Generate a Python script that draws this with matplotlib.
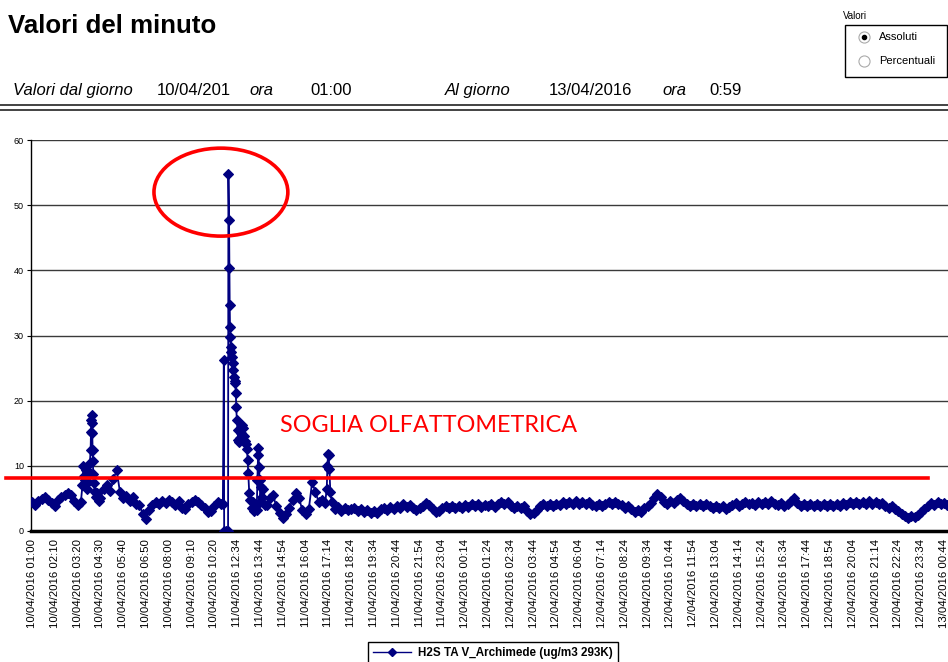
import numpy as np
import matplotlib
matplotlib.use('Agg')
import matplotlib.pyplot as plt
from matplotlib.patches import Ellipse, Rectangle
from matplotlib.lines import Line2D

plt.rcParams['font.family'] = ['Liberation Sans', 'DejaVu Sans']

W, H = 948, 662

# etichette asse x (una ogni 70 minuti)
etichette = ['10/04/2016 01:00', '10/04/2016 02:10', '10/04/2016 03:20', '10/04/2016 04:30',
             '10/04/2016 05:40', '10/04/2016 06:50', '10/04/2016 08:00', '10/04/2016 09:10',
             '10/04/2016 10:20',
             '11/04/2016 12:34', '11/04/2016 13:44', '11/04/2016 14:54', '11/04/2016 16:04',
             '11/04/2016 17:14', '11/04/2016 18:24', '11/04/2016 19:34', '11/04/2016 20:44',
             '11/04/2016 21:54', '11/04/2016 23:04',
             '12/04/2016 00:14', '12/04/2016 01:24', '12/04/2016 02:34', '12/04/2016 03:44',
             '12/04/2016 04:54', '12/04/2016 06:04', '12/04/2016 07:14', '12/04/2016 08:24',
             '12/04/2016 09:34', '12/04/2016 10:44', '12/04/2016 11:54', '12/04/2016 13:04',
             '12/04/2016 14:14', '12/04/2016 15:24', '12/04/2016 16:34', '12/04/2016 17:44',
             '12/04/2016 18:54', '12/04/2016 20:04', '12/04/2016 21:14', '12/04/2016 22:24',
             '12/04/2016 23:34',
             '13/04/2016 00:44']
passo_etichette = 70

tratto1_inizio = 0
tratto1 = [4.4, 4.0, 4.6, 4.9, 5.2, 4.7, 4.3, 3.8, 4.8, 5.2, 5.5, 5.8, 5.6, 4.6, 4.0]

picco1_min = [150, 155, 158, 160, 163, 166, 169, 172, 175, 178, 180, 181, 182, 183, 184,
              185, 186, 187, 188, 190, 193, 196, 200, 205, 210]
picco1_val = [4.4, 7.0, 9.9, 8.5, 7.8, 9.3, 6.5, 7.5, 9.0, 10.5, 12.5, 15.2, 17.0, 17.8, 16.5,
              15.0, 12.5, 10.7, 8.7, 7.3, 6.0, 5.2, 5.8, 4.6, 5.0]

tratto2_inizio = 220
tratto2 = [6.5, 7.0, 6.2, 8.0, 9.3, 6.0, 5.0, 5.3, 4.6, 5.2, 4.2, 4.0, 2.6, 1.8, 3.2, 4.0,
           4.5, 4.2, 4.6, 4.3, 4.7, 4.4, 4.0, 4.6, 3.6, 3.4, 4.2, 4.5, 4.8, 4.4, 4.0, 3.5,
           2.9, 3.0, 3.8, 4.4, 4.1]

picco2_min = [586, 589, 590, 596, 602, 603, 605, 606, 607, 608, 609, 610, 612, 613, 616,
              618, 620, 622, 624, 626, 627, 629, 631, 633, 636, 639, 642, 645, 648, 651,
              654, 657, 660, 662, 664, 667, 670, 674, 678, 682, 686, 690, 692, 694, 695,
              697, 699, 701, 704, 707, 710, 714]
picco2_val = [4.2, 26.2, 0.0, 0.0, 0.0, 54.8, 47.7, 40.3, 34.7, 31.3, 29.8, 28.2, 27.5, 26.7, 25.8,
              24.7, 23.6, 23.0, 22.7, 21.2, 19.0, 17.0, 15.5, 14.0, 13.6, 14.2, 15.0, 16.2, 15.8, 14.6,
              13.8, 13.4, 12.6, 10.9, 8.9, 5.8, 4.7, 3.6, 4.4, 3.0, 3.8, 3.2, 7.8, 11.6, 12.8,
              9.8, 7.8, 4.5, 6.8, 5.2, 6.5, 4.0]

tratto3_inizio = 720
tratto3 = [4.0, 5.0, 5.5, 3.8, 2.8, 2.0, 2.6, 3.5, 4.8, 5.8, 5.0, 3.2, 2.6, 3.4, 7.5, 6.0,
           4.5, 4.8, 4.3]

picco3_min = [905, 907, 909, 911, 913, 916]
picco3_val = [6.5, 10.0, 11.8, 11.6, 9.5, 6.0]

tratto4_inizio = 920
tratto4 = [4.5, 3.3, 3.7, 3.0, 3.5, 3.2,
           3.3, 3.6, 3.1, 3.4, 2.9, 3.2, 2.8, 3.1, 2.7, 3.3,
           3.6, 3.2, 3.7, 3.4, 3.9, 3.6, 4.1, 3.7, 4.0, 3.5,
           3.2, 3.6, 3.9, 4.3, 4.0, 3.4, 2.9, 3.1, 3.5, 3.8,
           3.5, 3.9, 3.6, 3.8, 3.5, 4.0, 3.7, 4.1, 3.8, 4.2,
           3.7, 4.0, 3.8, 4.1, 3.7, 4.2, 4.5, 4.1, 4.4, 3.9,
           3.6, 3.9, 3.5, 3.8, 3.0, 2.6, 2.8, 3.2, 3.8, 4.2,
           3.9, 4.1, 3.8, 4.2, 4.0, 4.4, 4.1, 4.5, 4.2, 4.6,
           4.2, 4.5, 4.1, 4.4, 4.0, 3.8, 4.1, 3.8, 4.2, 4.4,
           4.1, 4.5, 4.2, 4.0, 3.6, 3.8, 3.3, 2.9, 3.2, 2.9,
           3.5, 3.9, 4.3, 5.0, 5.7, 5.2, 4.5, 4.2, 4.6, 4.3,
           4.7, 5.1, 4.6, 4.2, 3.9, 4.2, 3.9, 4.1, 3.8, 4.2,
           3.9, 3.6, 3.9, 3.5, 3.8, 3.4, 3.7, 4.0, 4.3, 3.9,
           4.2, 4.4, 4.1, 4.3, 4.0, 4.4, 4.1, 4.5, 4.2, 4.6,
           4.2, 4.0, 4.3, 3.9, 4.2, 4.6, 5.0, 4.3, 3.9, 4.2,
           3.8, 4.1, 3.9, 4.2, 3.8, 4.1, 3.9, 4.2, 3.8, 4.1,
           3.9, 4.3, 4.0, 4.4, 4.1, 4.5, 4.2, 4.5, 4.1, 4.6,
           4.2, 4.5, 4.1, 4.3, 3.8, 3.5, 3.8, 3.4, 3.0, 2.6,
           2.3, 2.0, 2.3, 2.1, 2.5, 2.9, 3.4, 3.9, 4.3, 4.0,
           4.4, 4.1, 4.3, 4.0, 4.2]

soglia = 8.2
nome_serie = 'H2S TA V_Archimede (ug/m3 293K)'


def tratto_x(inizio, valori):
    return inizio + 10 * np.arange(len(valori))


x = np.concatenate([tratto_x(tratto1_inizio, tratto1), picco1_min,
                    tratto_x(tratto2_inizio, tratto2), picco2_min,
                    tratto_x(tratto3_inizio, tratto3), picco3_min,
                    tratto_x(tratto4_inizio, tratto4)])
y = np.concatenate([tratto1, picco1_val, tratto2, picco2_val, tratto3, picco3_val, tratto4])


def fx(px):
    return px / W


def fy(py):
    return 1 - py / H


fig = plt.figure(figsize=(W / 100, H / 100), dpi=100)
ax = fig.add_axes([fx(31), fy(531), (960 - 31) / W, (531 - 140) / H])

blu = '#000080'
ax.plot(x, y, color=blu, lw=1.3, marker='D', ms=4.6, mec=blu, mew=0.8, zorder=3)

ax.set_xlim(-3, 2849)
ax.set_ylim(0, 60)
ax.set_yticks(range(0, 61, 10))
ax.yaxis.grid(True, color='#3a3a3a', lw=1)
ax.set_axisbelow(True)
ax.set_xticks(np.arange(len(etichette)) * passo_etichette)
ax.set_xticklabels(etichette, rotation=90, fontsize=8.2)
ax.tick_params(axis='x', length=0, pad=6)
ax.tick_params(axis='y', length=3, width=0.8, labelsize=6.5, pad=2)
for s in ['top', 'right']:
    ax.spines[s].set_visible(False)
ax.spines['left'].set_linewidth(1)
ax.spines['bottom'].set_linewidth(2.5)

# annotazioni in rosso
ax.plot([-80, 2751], [soglia, soglia], color='red', lw=2.6, clip_on=False, zorder=5)
ax.add_patch(Ellipse((580, 52.0), 411, 13.5, fill=False, ec='red', lw=2.6, zorder=5))
fig.text(fx(280), fy(432), 'SOGLIA OLFATTOMETRICA', color='red', fontsize=16.8,
         family=['Lato', 'DejaVu Sans'], va='baseline')

# intestazione
fig.text(fx(8), fy(33), 'Valori del minuto', fontsize=18.6, weight='bold', va='baseline')
riga = [(13, 'Valori dal giorno', 'italic'), (157, '10/04/201', 'normal'),
        (249, 'ora', 'italic'), (310, '01:00', 'normal'),
        (445, 'Al giorno', 'italic'), (549, '13/04/2016', 'normal'),
        (662, 'ora', 'italic'), (709, '0:59', 'normal')]
for px, testo, stile in riga:
    fig.text(fx(px), fy(95), testo, fontsize=12, style=stile, va='baseline')
for py in [105, 110]:
    fig.add_artist(Line2D([0, 1], [fy(py), fy(py)], color='#222222', lw=1.2,
                          transform=fig.transFigure))

# riquadro Valori
fig.text(fx(843), fy(19), 'Valori', fontsize=7, va='baseline')
fig.add_artist(Rectangle((fx(845), fy(77)), (947 - 845) / W, 52 / H, fill=False,
                         ec='black', lw=1, transform=fig.transFigure))
fig.add_artist(Line2D([fx(864)], [fy(37)], marker='o', ms=8, mfc='white', mec='#aaaaaa',
                      mew=0.8, transform=fig.transFigure))
fig.add_artist(Line2D([fx(864)], [fy(37)], marker='o', ms=3, mfc='black', mec='black',
                      transform=fig.transFigure))
fig.add_artist(Line2D([fx(864)], [fy(61)], marker='o', ms=8, mfc='white', mec='#aaaaaa',
                      mew=0.8, transform=fig.transFigure))
fig.text(fx(879), fy(40), 'Assoluti', fontsize=8, va='baseline')
fig.text(fx(879), fy(64), 'Percentuali', fontsize=8, va='baseline')

# legenda
maniglia = Line2D([], [], color=blu, lw=1, marker='D', ms=4)
leg = fig.legend([maniglia], [nome_serie], loc='upper left',
                 bbox_to_anchor=(fx(368), fy(642)), fancybox=False, edgecolor='black',
                 framealpha=1, prop={'weight': 'bold', 'size': 8.4}, handlelength=3.2,
                 handletextpad=0.6, borderpad=0.45, borderaxespad=0)
leg.get_frame().set_linewidth(1)

fig.savefig('out.png', dpi=100)
